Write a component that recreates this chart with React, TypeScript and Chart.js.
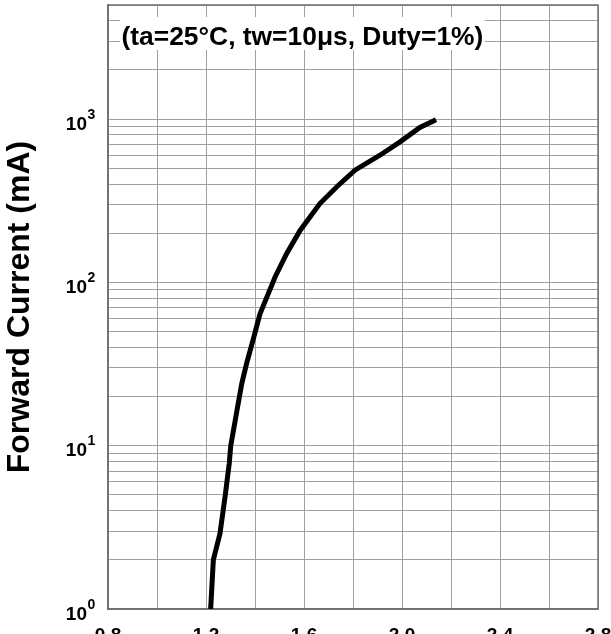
import React, { useEffect, useRef } from 'react';
import Chart from 'chart.js/auto';

// forward voltage (V) vs forward current (mA)
const voltage = [1.219, 1.23, 1.257, 1.278, 1.295, 1.301, 1.325, 1.346, 1.366, 1.393, 1.42, 1.448, 1.482, 1.529, 1.584, 1.665, 1.733, 1.808, 1.91, 1.992, 2.073, 2.139];
const current = [1, 2, 2.9, 4.9, 7.8, 10, 16, 24, 32, 45, 64, 81, 108, 150, 208, 304, 384, 487, 601, 726, 889, 990];

const decadeLabels = [1, 10, 100, 1000];
const decadeExponents = ['0', '1', '2', '3'];
const yMin = 1;
const yMax = 5000;
const xMin = 0.8;
const xMax = 2.8;

const conditionText = '(ta=25°C, tw=10μs, Duty=1%)';
const yTitle = 'Forward Current (mA)';
const FONT = "'Liberation Sans', Arial, sans-serif";

const decorations = {
  id: 'decorations',
  beforeDatasetsDraw(chart: any) {
    const { ctx, chartArea: a, scales } = chart;
    ctx.save();
    // frame round the plot
    ctx.strokeStyle = '#707070';
    ctx.lineWidth = 1.5;
    ctx.strokeRect(a.left, a.top, a.right - a.left, a.bottom - a.top);

    // test conditions, on a white box over the grid
    ctx.font = `bold 26.4px ${FONT}`;
    const w = ctx.measureText(conditionText).width;
    ctx.fillStyle = '#fff';
    ctx.fillRect(a.left + 12, 17, w + 3, 33);
    ctx.fillStyle = '#000';
    ctx.textAlign = 'left';
    ctx.textBaseline = 'alphabetic';
    ctx.fillText(conditionText, a.left + 13.5, 44.5);

    // y tick labels as 10 with a raised exponent
    const y = scales.y;
    decadeLabels.forEach((v, i) => {
      const py = y.getPixelForValue(v);
      ctx.font = `bold 19px ${FONT}`;
      ctx.textAlign = 'right';
      ctx.fillText('10', 87, py + 10.5);
      ctx.font = `bold 14px ${FONT}`;
      ctx.textAlign = 'left';
      ctx.fillText(decadeExponents[i], 87.5, py - 0.3);
    });
    ctx.restore();
  },
};

export default function App() {
  const canvasRef = useRef<HTMLCanvasElement>(null);
  const chartRef = useRef<Chart>();

  useEffect(() => {
    if (!canvasRef.current) return;
    chartRef.current?.destroy();
    chartRef.current = new Chart(canvasRef.current, {
      type: 'line',
      data: {
        datasets: [{
          data: voltage.map((v, i) => ({ x: v, y: current[i] })),
          borderColor: '#000',
          borderWidth: 5,
          pointRadius: 0,
          tension: 0,
          fill: false,
        }],
      },
      options: {
        animation: false,
        responsive: false,
        events: [],
        layout: { padding: { top: 5, right: 13, left: 0, bottom: 0 } },
        plugins: { legend: { display: false }, tooltip: { enabled: false } },
        scales: {
          x: {
            type: 'linear',
            min: xMin,
            max: xMax,
            afterFit: (s: any) => { s.height = 51; s.paddingLeft = 0; s.paddingRight = 0; },
            ticks: {
              stepSize: 0.2,
              autoSkip: false,
              maxRotation: 0,
              padding: 15,
              color: '#000',
              font: { family: FONT, size: 19, weight: 'bold' },
              callback: (v: any, i: number) => (i % 2 === 0 ? Number(v).toFixed(1) : ''),
            },
            grid: { color: '#a0a0a0', lineWidth: 1, drawTicks: false },
            border: { color: '#707070', width: 1.5 },
          },
          y: {
            type: 'logarithmic',
            min: yMin,
            max: yMax,
            afterFit: (s: any) => { s.width = 108; s.paddingTop = 0; s.paddingBottom = 0; },
            afterBuildTicks: (s: any) => {
              const vals: number[] = [];
              for (let e = 1; e <= 1000; e *= 10) {
                for (let k = 1; k <= 9; k++) if (k * e <= yMax) vals.push(k * e);
              }
              s.ticks = vals.map(v => ({ value: v }));
            },
            ticks: { display: false },
            grid: { color: '#a0a0a0', lineWidth: 1, drawTicks: false },
            border: { color: '#707070', width: 1.5 },
            title: {
              display: true,
              text: yTitle,
              color: '#000',
              padding: { top: 1, bottom: 0 },
              font: { family: FONT, size: 32, weight: 'bold' },
            },
          },
        },
      },
      plugins: [decorations],
    });
    return () => { chartRef.current?.destroy(); };
  }, []);

  return (
    <div style={{ position: 'absolute', left: 0, top: 0, width: 611, height: 634, overflow: 'hidden', background: '#fff' }}>
      <canvas ref={canvasRef} width={611} height={660} style={{ display: 'block' }} />
    </div>
  );
}
